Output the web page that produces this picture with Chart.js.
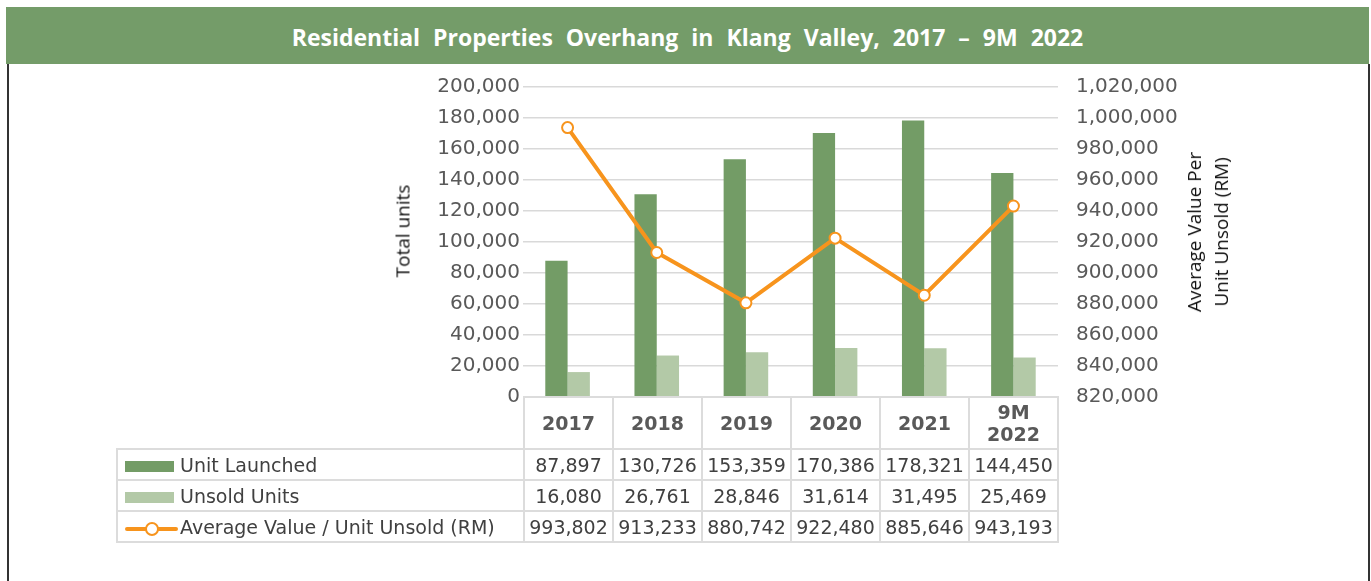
<!DOCTYPE html>
<html>
<head>
<meta charset="utf-8">
<title>Residential Properties Overhang in Klang Valley</title>
<script src="https://cdn.jsdelivr.net/npm/chart.js@4.4.1/dist/chart.umd.min.js"></script>
<style>
    body { margin: 0; background: #fff; width: 1371px; height: 581px; overflow: hidden; position: relative; font-family: "DejaVu Sans", sans-serif; }
    #header {
        position: absolute; left: 6px; top: 7px; width: 1363px; height: 57px;
        background: #749c69; color: #fff; text-align: center; line-height: 60px;
        font-family: "Open Sans", sans-serif; font-weight: bold; font-size: 23px; word-spacing: 7px;
    }
    #frame { position: absolute; left: 7px; top: 64px; width: 1359px; height: 530px; border-left: 2px solid #333; border-right: 2px solid #333; }
    #wrap { position: absolute; left: 0; top: 0; width: 1371px; height: 581px; }
    .ytitle {
        position: absolute; transform: translate(-50%, -50%) rotate(-90deg); white-space: nowrap;
        text-align: center; font-family: "Open Sans", sans-serif; font-size: 19px; color: #111; line-height: 27px;
    }
    #tbl { position: absolute; left: 116px; top: 396px; border-collapse: collapse; table-layout: fixed; }
    #tbl td { border: 2px solid #dcdcdc; padding: 0; text-align: center; font-size: 19px; color: #404040; height: 29px; white-space: nowrap; overflow: hidden; }
    #tbl tr.head td { height: 50px; font-weight: bold; color: #595959; line-height: 22px; }
    #tbl tr.head td.blank { border: none; }
    #tbl td.leg { text-align: left; padding-left: 7px; }
    .sw { display: inline-block; width: 49px; height: 11px; margin-right: 6px; vertical-align: 0px; }
    .lsw { display: inline-block; position: relative; width: 53px; height: 11px; margin-right: 2px; vertical-align: 0px; }
    .lsw .ln { position: absolute; left: 0; top: 4px; width: 53px; height: 4px; background: #f7941d; border-radius: 2px; }
    .lsw .dot { position: absolute; left: 20px; top: -1px; width: 10px; height: 10px; background: #fff; border: 2px solid #f7941d; border-radius: 50%; }
</style>
</head>
<body>
<div id="header">Residential Properties Overhang in Klang Valley, 2017 – 9M 2022</div>
<div id="frame"></div>
<div id="wrap"><canvas id="chart" width="1371" height="581"></canvas></div>
<div class="ytitle" style="left:403px; top:231px;">Total units</div>
<div class="ytitle" style="left:1208px; top:232px;">Average Value Per<br>Unit Unsold (RM)</div>
<table id="tbl"></table>

<script>
const categories = ['2017', '2018', '2019', '2020', '2021', '9M 2022'];
const categoryLines = [['2017'], ['2018'], ['2019'], ['2020'], ['2021'], ['9M', '2022']];
const unitLaunched = [87897, 130726, 153359, 170386, 178321, 144450];
const unsoldUnits = [16080, 26761, 28846, 31614, 31495, 25469];
const avgValueUnsold = [993802, 913233, 880742, 922480, 885646, 943193];

const darkGreen = '#739c66';
const lightGreen = '#b3c9a7';
const orange = '#f7941d';

const fmt = (v) => v.toLocaleString('en-US');

function buildTable() {
    const tbl = document.getElementById('tbl');
    let html = '<colgroup><col style="width:407px">';
    categories.forEach(() => { html += '<col style="width:89px">'; });
    html += '</colgroup>';

    html += '<tr class="head"><td class="blank"></td>';
    categoryLines.forEach((lines) => { html += '<td>' + lines.join('<br>') + '</td>'; });
    html += '</tr>';

    const rows = [
        { label: 'Unit Launched', swatch: '<span class="sw" style="background:' + darkGreen + '"></span>', data: unitLaunched },
        { label: 'Unsold Units', swatch: '<span class="sw" style="background:' + lightGreen + '"></span>', data: unsoldUnits },
        { label: 'Average Value / Unit Unsold (RM)', swatch: '<span class="lsw"><span class="ln"></span><span class="dot"></span></span>', data: avgValueUnsold }
    ];
    rows.forEach((row) => {
        html += '<tr><td class="leg">' + row.swatch + row.label + '</td>';
        row.data.forEach((v) => { html += '<td>' + fmt(v) + '</td>'; });
        html += '</tr>';
    });
    tbl.innerHTML = html;
}

function drawChart() {
    const ctx = document.getElementById('chart').getContext('2d');
    const tickFont = { family: 'DejaVu Sans', size: 20 };

    new Chart(ctx, {
        data: {
            labels: categories,
            datasets: [
                {
                    type: 'line',
                    label: 'Average Value / Unit Unsold (RM)',
                    data: avgValueUnsold,
                    yAxisID: 'y1',
                    borderColor: orange,
                    borderWidth: 4,
                    pointRadius: 5.5,
                    pointBorderWidth: 2,
                    pointBackgroundColor: '#fff',
                    pointBorderColor: orange,
                    tension: 0,
                    order: 0
                },
                {
                    type: 'bar',
                    label: 'Unit Launched',
                    data: unitLaunched,
                    yAxisID: 'y',
                    backgroundColor: darkGreen,
                    categoryPercentage: 0.5,
                    barPercentage: 1,
                    order: 1
                },
                {
                    type: 'bar',
                    label: 'Unsold Units',
                    data: unsoldUnits,
                    yAxisID: 'y',
                    backgroundColor: lightGreen,
                    categoryPercentage: 0.5,
                    barPercentage: 1,
                    order: 1
                }
            ]
        },
        options: {
            responsive: false,
            animation: false,
            layout: { padding: { top: 87, bottom: 184, left: 0, right: 0 } },
            plugins: {
                legend: { display: false },
                title: { display: false },
                tooltip: { enabled: false }
            },
            scales: {
                x: { display: false, offset: true },
                y: {
                    position: 'left',
                    min: 0,
                    max: 200000,
                    ticks: { stepSize: 20000, callback: (v) => fmt(v), font: tickFont, color: '#595959', padding: 3 },
                    grid: { color: '#d9d9d9', lineWidth: 1.5, drawTicks: false },
                    border: { display: false },
                    afterFit: (s) => { s.width = 523; }
                },
                y1: {
                    position: 'right',
                    min: 820000,
                    max: 1020000,
                    ticks: { stepSize: 20000, callback: (v) => fmt(v), font: tickFont, color: '#595959', padding: 10 },
                    grid: { display: false },
                    border: { display: false },
                    afterFit: (s) => { s.width = 313; }
                }
            }
        }
    });
}

buildTable();
drawChart();
</script>
</body>
</html>
